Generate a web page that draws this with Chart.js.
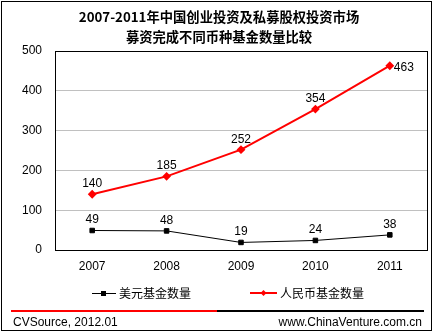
<!DOCTYPE html>
<html>
<head>
<meta charset="utf-8">
<script src="https://cdn.jsdelivr.net/npm/chart.js@4/dist/chart.umd.min.js"></script>
<style>
html,body{margin:0;padding:0;background:#fff;}
#wrap{position:relative;width:435px;height:335px;}
canvas{display:block;}
</style>
</head>
<body>
<div id="wrap"><canvas id="c" width="435" height="335"></canvas></div>
<script>
const titleLines = ["2007-2011年中国创业投资及私募股权投资市场", "募资完成不同币种基金数量比较"];
const years = ["2007", "2008", "2009", "2010", "2011"];
const usdFunds = [49, 48, 19, 24, 38];
const rmbFunds = [140, 185, 252, 354, 463];
const seriesNames = ["美元基金数量", "人民币基金数量"];
const yTicks = [0, 100, 200, 300, 400, 500];
const sourceText = "CVSource, 2012.01";
const siteText = "www.ChinaVenture.com.cn";

const FONT = "'Liberation Sans', Arial, sans-serif";
const CJK = "'Noto Sans CJK SC', sans-serif";

const decor = {
  id: 'decor',
  beforeDraw(chart) {
    const ctx = chart.ctx;
    ctx.save();
    ctx.fillStyle = '#fff';
    ctx.fillRect(0, 0, chart.width, chart.height);
    ctx.restore();
  },
  afterDraw(chart) {
    const ctx = chart.ctx;
    const a = chart.chartArea;
    ctx.save();
    ctx.strokeStyle = '#000';
    ctx.lineWidth = 1;
    ctx.strokeRect(Math.round(a.left) + 0.5, Math.round(a.top) + 0.5, Math.round(a.right - a.left), Math.round(a.bottom - a.top));
    ctx.strokeRect(1.5, 1.5, 430, 329);
    ctx.fillStyle = '#000';
    ctx.textAlign = 'center';
    ctx.textBaseline = 'middle';
    ctx.font = "bold 13.3px " + CJK;
    ctx.fillText(titleLines[0], 219, 17);
    ctx.fillText(titleLines[1], 219, 37);
    const xs = chart.scales.x, ys = chart.scales.y;
    ctx.font = "12px " + FONT;
    ctx.textBaseline = 'alphabetic';
    rmbFunds.forEach((v, i) => {
      const x = xs.getPixelForValue(i), y = ys.getPixelForValue(v);
      if (i === rmbFunds.length - 1) {
        ctx.textAlign = 'left';
        ctx.fillText(String(v), x + 4, y + 5);
      } else {
        ctx.textAlign = 'center';
        ctx.fillText(String(v), x, y - 7);
      }
    });
    usdFunds.forEach((v, i) => {
      const x = xs.getPixelForValue(i), y = ys.getPixelForValue(v);
      ctx.textAlign = 'center';
      ctx.fillText(String(v), x, y - 7);
    });
    ctx.lineWidth = 1;
    ctx.strokeStyle = '#000';
    ctx.beginPath(); ctx.moveTo(92, 293.5); ctx.lineTo(116, 293.5); ctx.stroke();
    ctx.fillStyle = '#000';
    ctx.fillRect(101, 291, 5, 5);
    ctx.strokeStyle = '#ff0000';
    ctx.lineWidth = 2;
    ctx.beginPath(); ctx.moveTo(250, 293); ctx.lineTo(277, 293); ctx.stroke();
    ctx.fillStyle = '#ff0000';
    ctx.beginPath(); ctx.moveTo(263.5, 290); ctx.lineTo(266.5, 293); ctx.lineTo(263.5, 296); ctx.lineTo(260.5, 293); ctx.closePath(); ctx.fill();
    ctx.fillStyle = '#000';
    ctx.textAlign = 'left';
    ctx.textBaseline = 'middle';
    ctx.font = "12px " + CJK;
    ctx.fillText(seriesNames[0], 119, 293);
    ctx.fillText(seriesNames[1], 280, 293);
    ctx.fillStyle = '#ff0000';
    ctx.fillRect(11, 310, 206, 2);
    ctx.fillStyle = '#000';
    ctx.fillRect(217, 310, 207, 2);
    ctx.font = "12px " + FONT;
    ctx.textBaseline = 'middle';
    ctx.textAlign = 'left';
    ctx.fillText(sourceText, 13, 323);
    ctx.textAlign = 'right';
    ctx.fillText(siteText, 422, 323);
    ctx.restore();
  }
};

new Chart(document.getElementById('c'), {
  type: 'line',
  data: {
    labels: years,
    datasets: [
      {
        label: seriesNames[0],
        data: usdFunds,
        borderColor: '#000',
        backgroundColor: '#000',
        borderWidth: 1,
        pointStyle: 'rect',
        pointRadius: 3.2,
        pointHoverRadius: 3.2,
        tension: 0
      },
      {
        label: seriesNames[1],
        data: rmbFunds,
        borderColor: '#ff0000',
        backgroundColor: '#ff0000',
        borderWidth: 2,
        pointStyle: 'rectRot',
        pointRadius: 3,
        pointHoverRadius: 3,
        tension: 0
      }
    ]
  },
  options: {
    responsive: false,
    animation: false,
    devicePixelRatio: 1,
    events: [],
    layout: { padding: { top: 51, right: 8, left: 0, bottom: 0 } },
    plugins: { legend: { display: false }, title: { display: false }, tooltip: { enabled: false } },
    scales: {
      x: {
        offset: true,
        grid: { display: false, drawTicks: false },
        border: { display: false },
        ticks: { color: '#000', font: { family: FONT, size: 12 }, padding: 9, maxRotation: 0 },
        afterFit(s) { s.height = 85; }
      },
      y: {
        min: 0, max: 500,
        afterBuildTicks(s) { s.ticks = yTicks.map(v => ({ value: v })); },
        grid: { color: '#c0c0c0', drawTicks: false, lineWidth: 1 },
        border: { display: false },
        ticks: { color: '#000', font: { family: FONT, size: 12 }, padding: 13 },
        afterFit(s) { s.width = 55; }
      }
    }
  },
  plugins: [decor]
});
</script>
</body>
</html>
